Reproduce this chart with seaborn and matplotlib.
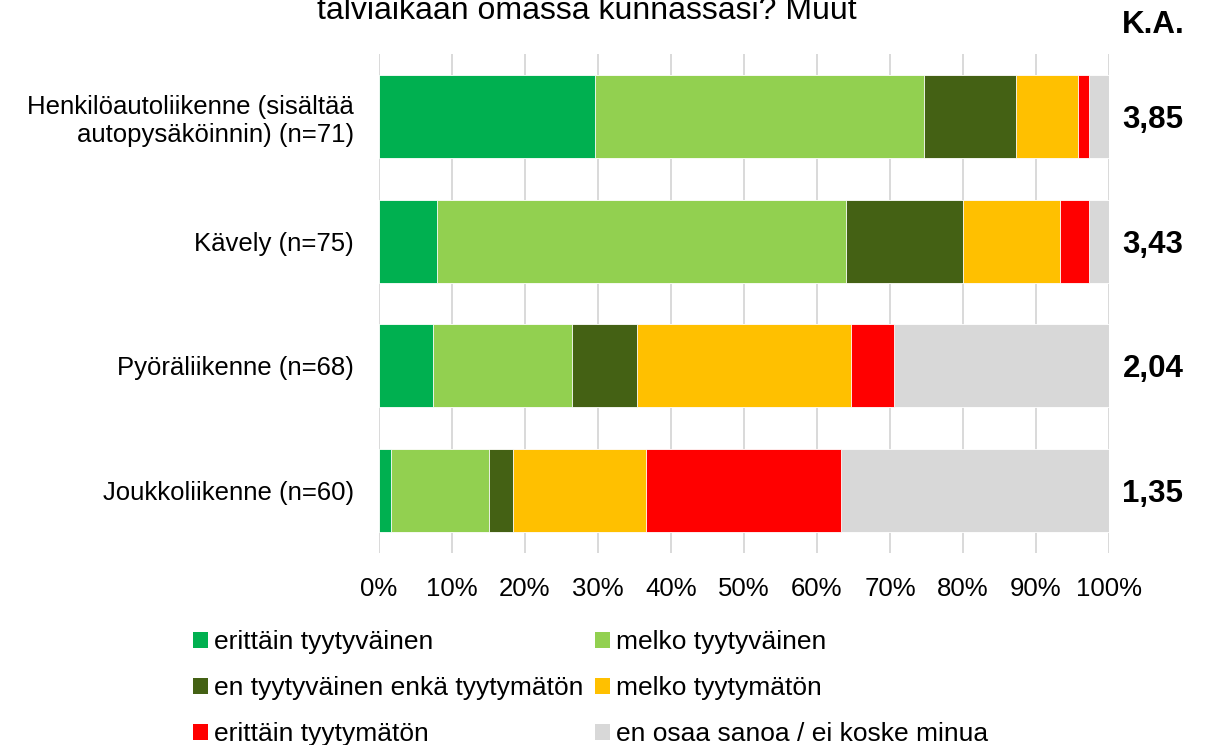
import matplotlib
matplotlib.use("Agg")
import matplotlib.pyplot as plt
from matplotlib.patches import Patch
from matplotlib.transforms import offset_copy
import seaborn as sns
import pandas as pd

# ---------------- data ----------------
categories = [
    "Henkilöautoliikenne (sisältää\nautopysäköinnin) (n=71)",
    "Kävely (n=75)",
    "Pyöräliikenne (n=68)",
    "Joukkoliikenne (n=60)",
]
series_names = [
    "erittäin tyytyväinen",
    "melko tyytyväinen",
    "en tyytyväinen enkä tyytymätön",
    "melko tyytymätön",
    "erittäin tyytymätön",
    "en osaa sanoa / ei koske minua",
]
erittain_tyytyvainen = [29.6, 8.0, 7.4, 1.7]
melko_tyytyvainen = [45.0, 56.0, 19.1, 13.3]
en_kumpikaan = [12.7, 16.0, 8.8, 3.3]
melko_tyytymaton = [8.5, 13.3, 29.4, 18.3]
erittain_tyytymaton = [1.4, 4.0, 5.9, 26.7]
en_osaa_sanoa = [2.8, 2.7, 29.4, 36.7]
ka_values = ["3,85", "3,43", "2,04", "1,35"]
x_ticks = [0, 10, 20, 30, 40, 50, 60, 70, 80, 90, 100]
x_tick_labels = [f"{v}%" for v in x_ticks]
title_text = "talviaikaan omassa kunnassasi? Muut"

colors = ["#00B050", "#92D050", "#446114", "#FFC000", "#FF0000", "#D8D8D8"]

# ---------------- style ----------------
sns.set_theme(style="white")
plt.rcParams["font.family"] = ["Liberation Sans", "DejaVu Sans"]
plt.rcParams["text.color"] = "black"

fig = plt.figure(figsize=(12.11, 7.45), dpi=100)
ax = fig.add_axes([379 / 1211, 1 - 553 / 745, 730 / 1211, 499 / 745])

values = [erittain_tyytyvainen, melko_tyytyvainen, en_kumpikaan,
          melko_tyytymaton, erittain_tyytymaton, en_osaa_sanoa]
wide = pd.DataFrame({name: vals for name, vals in zip(series_names, values)})
cum = wide[series_names].cumsum(axis=1)
cum["category"] = categories

# stacked bars: draw cumulative totals from the last series back to the first
for name, col in reversed(list(zip(series_names, colors))):
    sns.barplot(data=cum, x=name, y="category", order=categories,
                color=col, saturation=1, width=0.665, orient="h",
                edgecolor="white", linewidth=0.6, ax=ax, errorbar=None)

ax.set_xlim(0, 100)
ax.set_ylim(3.5, -0.5)
ax.set_xticks(x_ticks)
ax.set_xticklabels(x_tick_labels)
ax.set_xlabel("")
ax.set_ylabel("")
ax.tick_params(axis="x", length=0, pad=17, labelsize=18.5, labelcolor="black")
ax.tick_params(axis="y", length=0, pad=18, labelsize=18.5, labelcolor="black")
ax.grid(axis="x", color="#d9d9d9", linewidth=1.4)
ax.grid(axis="y", visible=False)
ax.set_axisbelow(True)
for s in ax.spines.values():
    s.set_visible(False)

# K.A. column
trans = offset_copy(ax.get_yaxis_transform(), fig=fig, x=0, y=-8.3, units="points")
for i, v in enumerate(ka_values):
    ax.text((1153 - 379) / 730, i, v, transform=trans, ha="center", va="baseline",
            fontsize=22.5, fontweight="bold", color="black")
fig.text(1153 / 1211, 1 - 33 / 745, "K.A.", ha="center", va="baseline",
         fontsize=22.5, fontweight="bold", color="black")

# partially visible title (cut at the top edge, as in the reference)
fig.text(587 / 1211, 1 - 19 / 745, title_text, ha="center", va="baseline",
         fontsize=23, color="black")

# legend (row-wise order in a 2-column layout)
handles = [Patch(facecolor=c, edgecolor="none", label=n)
           for n, c in zip(series_names, colors)]
order = [0, 2, 4, 1, 3, 5]
fig.legend([handles[i] for i in order], [series_names[i] for i in order],
           loc="upper left", bbox_to_anchor=(193 / 1211, 1 - 630 / 745),
           ncol=2, frameon=False, fontsize=19, handlelength=0.55,
           handleheight=0.55, handletextpad=0.23, columnspacing=0.47,
           labelspacing=0.84, borderpad=0, borderaxespad=0, labelcolor="black")

fig.savefig("out.png", dpi=100)
